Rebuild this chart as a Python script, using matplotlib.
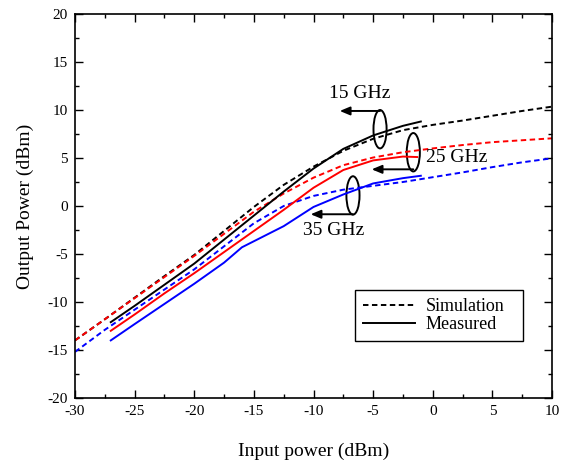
import matplotlib
matplotlib.use("Agg")
import matplotlib.pyplot as plt
from matplotlib.patches import Ellipse
from matplotlib.lines import Line2D

plt.rcParams['font.family'] = ['Liberation Serif', 'DejaVu Serif']
plt.rcParams['axes.unicode_minus'] = False

# simulation curves (dashed)
x_sim = [-30, -27.5, -25, -22.5, -20, -17.5, -15, -12.5, -10, -7.5, -5, -2.5, 0, 2.5, 5, 7.5, 10]
sim_15 = [-14.0, -11.8, -9.55, -7.3, -5.1, -2.6, -0.1, 2.2, 4.1, 5.75, 7.0, 7.9, 8.45, 8.9, 9.4, 9.9, 10.35]
sim_25 = [-14.0, -11.8, -9.6, -7.4, -5.2, -2.9, -0.6, 1.3, 2.95, 4.25, 5.05, 5.6, 6.0, 6.35, 6.65, 6.85, 7.05]
sim_35 = [-15.2, -12.9, -10.8, -8.7, -6.6, -4.2, -1.8, 0.0, 1.05, 1.7, 2.1, 2.5, 3.0, 3.5, 4.05, 4.55, 4.97]

# measured curves (solid)
x_m15 = [-27, -25, -22.5, -20, -17.5, -15, -12.5, -10, -7.5, -5, -2.5, -1]
m_15 = [-12.1, -10.4, -8.2, -6.0, -3.5, -1.0, 1.5, 3.9, 5.95, 7.35, 8.35, 8.8]
x_m25 = [-27, -25, -22.5, -20, -17.5, -15, -12.5, -10, -7.5, -5, -2.5, -1.3]
m_25 = [-13.0, -11.3, -9.1, -7.0, -4.8, -2.6, -0.4, 1.9, 3.75, 4.75, 5.15, 5.1]
x_m35 = [-27, -25, -22.5, -20, -17.5, -16, -12.5, -10, -7.5, -5, -2.5, -1]
m_35 = [-14.0, -12.3, -10.2, -8.1, -5.9, -4.3, -2.1, -0.1, 1.2, 2.35, 2.9, 3.15]

xticks = [-30, -25, -20, -15, -10, -5, 0, 5, 10]
yticks = [-20, -15, -10, -5, 0, 5, 10, 15, 20]

fig = plt.figure(figsize=(5.61, 4.65), dpi=100)
ax = fig.add_axes([75 / 561, 67 / 465, 477 / 561, 384 / 465])

dash = (0, (2.8, 1.8))
lw = 1.4
ax.plot(x_sim, sim_15, color='black', lw=lw, linestyle=dash)
ax.plot(x_sim, sim_25, color='#ff0000', lw=lw, linestyle=dash)
ax.plot(x_sim, sim_35, color='#0000ff', lw=lw, linestyle=dash)
ax.plot(x_m15, m_15, color='black', lw=lw)
ax.plot(x_m25, m_25, color='#ff0000', lw=lw)
ax.plot(x_m35, m_35, color='#0000ff', lw=lw)

# ellipses + arrows marking frequency groups
for cx, cy, ay, tip in [(-4.42, 8.0, 9.9, -7.8), (-1.63, 5.6, 3.82, -5.12), (-6.69, 1.1, -0.86, -10.24)]:
    ax.add_patch(Ellipse((cx, cy), 1.1, 4.0, fill=False, edgecolor='black', lw=1.4))
    ax.annotate('', xy=(tip, ay), xytext=(cx, ay),
                arrowprops=dict(arrowstyle='-|>,head_length=0.6,head_width=0.25',
                                color='black', lw=1.4, shrinkA=0, shrinkB=0))

ax.text(-6.1, 11.75, '15 GHz', fontsize=14, ha='center', va='center')
ax.text(-0.55, 5.1, '25 GHz', fontsize=14, ha='left', va='center')
ax.text(-8.28, -2.55, '35 GHz', fontsize=14, ha='center', va='center')

ax.set_xlim(-30, 10)
ax.set_ylim(-20, 20)
ax.set_xticks(xticks)
ax.set_yticks(yticks)
ax.set_xticks([x + 2.5 for x in xticks[:-1]], minor=True)
ax.set_yticks([y + 2.5 for y in yticks[:-1]], minor=True)
ax.tick_params(which='both', direction='in', top=True, right=True, labelsize=11, pad=5)
ax.tick_params(which='major', length=6, width=1)
ax.tick_params(which='minor', length=3, width=1)
for s in ax.spines.values():
    s.set_linewidth(1.2)

ax.set_xlabel('Input power (dBm)', fontsize=14, labelpad=18)
ax.set_ylabel('Output Power (dBm)', fontsize=14, labelpad=10)

handles = [Line2D([], [], color='black', lw=lw, linestyle=dash),
           Line2D([], [], color='black', lw=lw)]
leg = ax.legend(handles, ['Simulation', 'Measured'], loc='upper left',
                bbox_to_anchor=(0.587, 0.146, 0.352, 0.135), mode='expand',
                fontsize=13, frameon=True,
                fancybox=False, edgecolor='black', framealpha=1,
                handlelength=2.9, handletextpad=0.55, labelspacing=0.05,
                borderpad=0.45, borderaxespad=0)
leg.get_frame().set_linewidth(1.0)

fig.savefig('out.png', dpi=100)
